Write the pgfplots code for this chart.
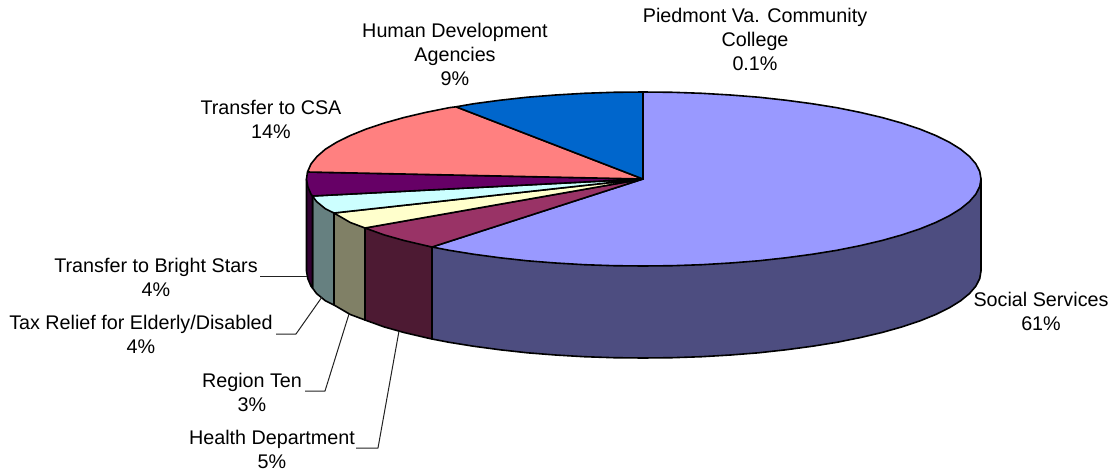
\documentclass[border=0pt]{standalone}
\usepackage{pgfplots}
\pgfplotsset{compat=1.18}
\usepackage{fontspec}
\setmainfont{Liberation Sans}
\definecolor{cSoc}{HTML}{9999FF}\definecolor{sSoc}{HTML}{4D4D80}
\definecolor{cHea}{HTML}{993366}\definecolor{sHea}{HTML}{4D1A33}
\definecolor{cReg}{HTML}{FFFFCC}\definecolor{sReg}{HTML}{808066}
\definecolor{cTax}{HTML}{CCFFFF}\definecolor{sTax}{HTML}{668080}
\definecolor{cSta}{HTML}{660066}\definecolor{sSta}{HTML}{330033}
\definecolor{cCSA}{HTML}{FF8080}
\definecolor{cHum}{HTML}{0066CC}
\definecolor{cPie}{HTML}{CCCCFF}
\definecolor{lead}{HTML}{222222}
\tikzset{
  pie/.style={draw=black,line width=1.6pt},
  leadl/.style={draw=lead,line width=1pt},
  lab/.style={align=center,inner sep=0pt,font=\fontsize{19.75}{24}\selectfont,text=black},
}
\begin{document}
\begin{tikzpicture}
\path (0,0) rectangle (1110pt,471pt);
\begin{axis}[
  at={(0,0)},anchor=south west,
  width=1110pt,height=471pt,scale only axis,
  xmin=0,xmax=1110,ymin=0,ymax=471,y dir=reverse,
  hide axis,clip=false,
  every axis plot/.append style={no markers,line join=round},
]
% side faces
\addplot[pie,fill=sSoc] coordinates {(981,179)(981,271)(979.7,278.6)(975.9,286.1)(969.5,293.5)(960.6,300.8)(949.3,307.8)(935.7,314.5)(919.9,320.9)(901.9,326.9)(882,332.5)(860.3,337.6)(836.9,342.3)(812,346.3)(785.8,349.8)(758.6,352.8)(730.5,355)(701.7,356.7)(672.5,357.7)(643,358)(613.5,357.7)(584.3,356.7)(555.5,355)(527.4,352.8)(500.2,349.8)(474,346.3)(449.1,342.3)(432,339)(432,247)} -- cycle;
\addplot[pie,fill=sHea] coordinates {(432,247)(432,339)(425.7,337.6)(404,332.5)(384.1,326.9)(365,320)(365,228)} -- cycle;
\addplot[pie,fill=sReg] coordinates {(365,228)(365,320)(350.3,314.5)(334,305)(334,213)} -- cycle;
\addplot[pie,fill=sTax] coordinates {(334,213)(334,305)(325.4,300.8)(316.5,293.5)(312.5,288)(312.5,196)} -- cycle;
\addplot[pie,fill=sSta] coordinates {(312.5,196)(312.5,288)(311,286.1)(307.8,278.6)(306.5,271)(306.5,179)} -- cycle;
% top faces
\addplot[pie,fill=cPie] coordinates {(643,179)(643,92)(645,92)} -- cycle;
\addplot[pie,fill=cSoc] coordinates {(643,179)(643,92)(672.5,92.3)(701.7,93.3)(730.5,95)(758.6,97.2)(785.8,100.2)(812,103.7)(836.9,107.7)(860.3,112.4)(882,117.5)(901.9,123.1)(919.9,129.1)(935.7,135.5)(949.3,142.2)(960.6,149.2)(969.5,156.5)(975.9,163.9)(979.7,171.4)(981,179)(979.7,186.6)(975.9,194.1)(969.5,201.5)(960.6,208.8)(949.3,215.8)(935.7,222.5)(919.9,228.9)(901.9,234.9)(882,240.5)(860.3,245.6)(836.9,250.3)(812,254.3)(785.8,257.8)(758.6,260.8)(730.5,263)(701.7,264.7)(672.5,265.7)(643,266)(613.5,265.7)(584.3,264.7)(555.5,263)(527.4,260.8)(500.2,257.8)(474,254.3)(449.1,250.3)(432,247)} -- cycle;
\addplot[pie,fill=cHea] coordinates {(643,179)(432,247)(425.7,245.6)(404,240.5)(384.1,234.9)(365,228)} -- cycle;
\addplot[pie,fill=cReg] coordinates {(643,179)(365,228)(350.3,222.5)(334,213)} -- cycle;
\addplot[pie,fill=cTax] coordinates {(643,179)(334,213)(325.4,208.8)(316.5,201.5)(312.5,196)} -- cycle;
\addplot[pie,fill=cSta] coordinates {(643,179)(312.5,196)(311,194.1)(307.8,186.6)(306.5,179)(307.5,172)} -- cycle;
\addplot[pie,fill=cCSA] coordinates {(643,179)(307.5,172)(311,163.9)(317,156.5)(325.4,149.2)(336.7,142.2)(350.3,135.5)(366.1,129.1)(384.1,123.1)(404,117.5)(425.7,112.4)(449.1,107.7)(456,106.8)} -- cycle;
\addplot[pie,fill=cHum] coordinates {(643,179)(456,106.8)(474,103.7)(500.2,100.2)(527.4,97.2)(555.5,95)(584.3,93.3)(613.5,92.3)(643,92)} -- cycle;
% leader lines
\addplot[leadl] coordinates {(260,276)(307,276)};
\addplot[leadl] coordinates {(276,334)(296,334)(322,297)};
\addplot[leadl] coordinates {(305,391)(325,391)(349,314)};
\addplot[leadl] coordinates {(356,448)(378,448)(399,331)};
% labels
\node[lab] at (axis cs:755,39) {Piedmont Va. Community\\College\\0.1\%};
\node[lab] at (axis cs:455,54) {Human Development\\Agencies\\9\%};
\node[lab] at (axis cs:271,119) {Transfer to CSA\\14\%};
\node[lab] at (axis cs:156,277) {Transfer to Bright Stars\\4\%};
\node[lab] at (axis cs:141,334) {Tax Relief for Elderly/Disabled\\4\%};
\node[lab] at (axis cs:252,392) {Region Ten\\3\%};
\node[lab] at (axis cs:272,449) {Health Department\\5\%};
\node[lab] at (axis cs:1041,311) {Social Services\\61\%};
\end{axis}
\end{tikzpicture}
\end{document}
